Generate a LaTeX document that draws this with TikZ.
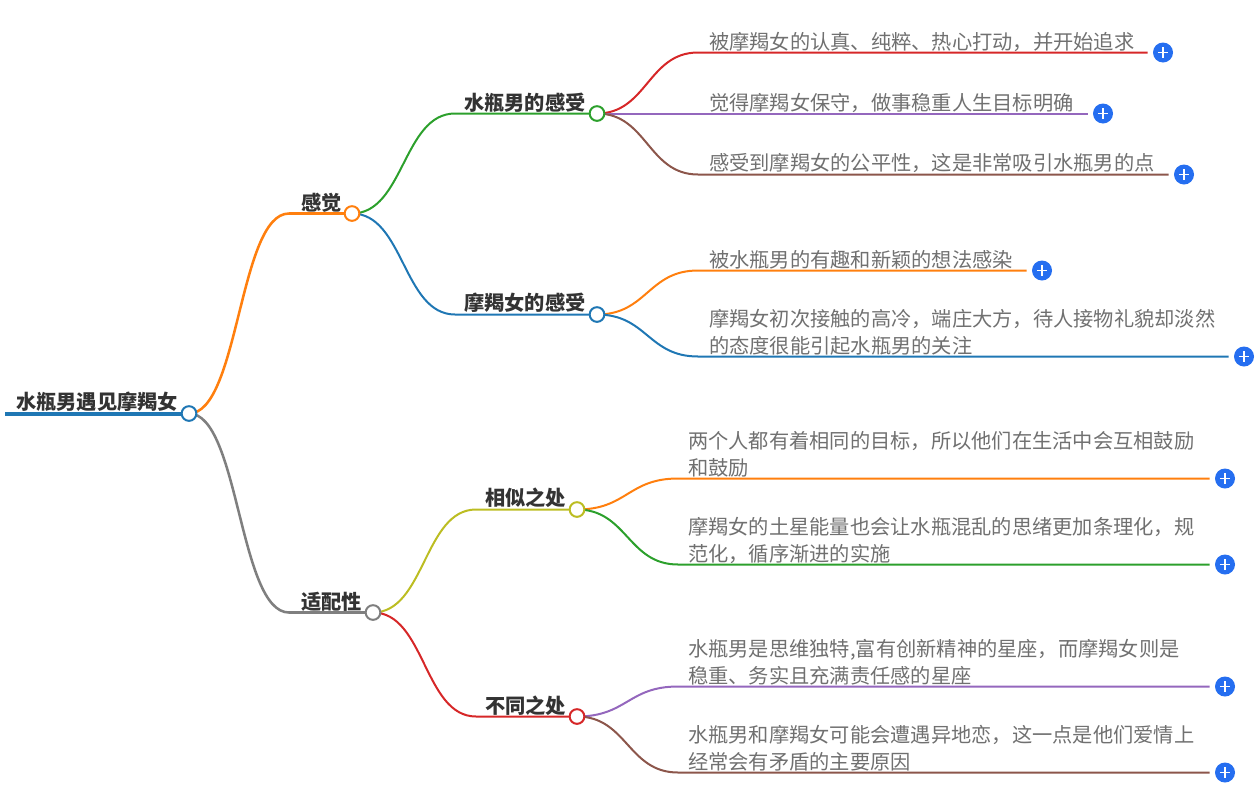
\documentclass[tikz,border=0pt]{standalone}
\usepackage{fontspec}
\usepackage{xcolor}
\usetikzlibrary{backgrounds}
\setmainfont{Noto Sans CJK SC}
\definecolor{mBlue}{RGB}{31,119,180}
\definecolor{mOrange}{RGB}{255,127,14}
\definecolor{mGreen}{RGB}{44,160,44}
\definecolor{mRed}{RGB}{214,39,40}
\definecolor{mPurple}{RGB}{148,103,189}
\definecolor{mBrown}{RGB}{140,86,75}
\definecolor{mGray}{RGB}{127,127,127}
\definecolor{mOlive}{RGB}{188,189,34}
\definecolor{mPlus}{RGB}{37,110,240}
\definecolor{mText}{RGB}{51,51,51}
\definecolor{mLeaf}{RGB}{112,112,112}
\begin{document}
\begin{tikzpicture}[
  x=0.75pt, y=-0.75pt,
  dot/.style={draw=#1, circle, fill=white, line width=1.5pt, minimum size=11pt, inner sep=0pt},
  plus/.style={circle, fill=mPlus, minimum size=15pt, inner sep=0pt,
    path picture={\draw[white, line width=1.1pt]
      ([xshift=-3.8pt]path picture bounding box.center) -- ([xshift=3.8pt]path picture bounding box.center)
      ([yshift=-3.8pt]path picture bounding box.center) -- ([yshift=3.8pt]path picture bounding box.center);}},
  title/.style={anchor=west, inner sep=0pt, text=mText, font=\fontsize{15.18}{18}\selectfont\bfseries},
  leaf/.style={anchor=west, inner sep=0pt, align=left, text=mLeaf, font=\fontsize{15.18}{20.25}\selectfont},
  branch/.style={draw=#1, line width=1.9pt},
  twig/.style={draw=#1, line width=1.5pt},
  gap/.style={xshift=-3.75pt}
]
  \useasboundingbox (0,-0.5) rectangle (1257,799.5);
  % main labels and their dots
  \node[dot=mBlue] (root) at (189,413) {};
  \node[dot=mOrange] (feel) at (352,213) {};
  \node[dot=mGray] (match) at (373,612) {};
  \node[dot=mGreen] (man) at (597,113) {};
  \node[dot=mBlue] (woman) at (597,314) {};
  \node[dot=mOlive] (same) at (577,509) {};
  \node[dot=mRed] (diff) at (577,716) {};
  \node[title] (rootText) at (16,401) {水瓶男遇见摩羯女};
  \node[title] (feelText) at (301,202) {感觉};
  \node[title] (matchText) at (301,601) {适配性};
  \node[title] (manText) at (464,102) {水瓶男的感受};
  \node[title] (womanText) at (464,302) {摩羯女的感受};
  \node[title] (sameText) at (485,497) {相似之处};
  \node[title] (diffText) at (485,705) {不同之处};
  % leaves
  \node[leaf] (manA) at (709,41) {被摩羯女的认真、纯粹、热心打动，并开始追求};
  \node[leaf] (manB) at (709,102) {觉得摩羯女保守，做事稳重人生目标明确};
  \node[leaf] (manC) at (709,162) {感受到摩羯女的公平性，这是非常吸引水瓶男的点};
  \node[leaf] (womanA) at (709,259) {被水瓶男的有趣和新颖的想法感染};
  \node[leaf] (womanB) at (709,331.5) {摩羯女初次接触的高冷，端庄大方，待人接物礼貌却淡然\\的态度很能引起水瓶男的关注};
  \node[leaf] (sameA) at (688,454) {两个人都有着相同的目标，所以他们在生活中会互相鼓励\\和鼓励};
  \node[leaf] (sameB) at (688,540) {摩羯女的土星能量也会让水瓶混乱的思绪更加条理化，规\\范化，循序渐进的实施};
  \node[leaf] (diffA) at (688,662) {水瓶男是思维独特,富有创新精神的星座，而摩羯女则是\\稳重、务实且充满责任感的星座};
  \node[leaf] (diffB) at (688,748) {水瓶男和摩羯女可能会遭遇异地恋，这一点是他们爱情上\\经常会有矛盾的主要原因};
  % plus buttons
  \node[plus] (manAPlus) at (1163,52) {};
  \node[plus] (manBPlus) at (1103,113) {};
  \node[plus] (manCPlus) at (1184,174) {};
  \node[plus] (womanAPlus) at (1042,270) {};
  \node[plus] (womanBPlus) at (1244,356) {};
  \node[plus] (sameAPlus) at (1225,478) {};
  \node[plus] (sameBPlus) at (1225,564) {};
  \node[plus] (diffAPlus) at (1225,686) {};
  \node[plus] (diffBPlus) at (1225,772) {};
  % bends
  \coordinate (rootStart) at (5,413);
  \coordinate (feelBend) at (289,213);
  \coordinate (matchBend) at (289,612);
  \coordinate (manBend) at (455,113);
  \coordinate (womanBend) at (455,314);
  \coordinate (sameBend) at (476,509);
  \coordinate (diffBend) at (476,716);
  \coordinate (manABend) at (698,52);
  \coordinate (manBBend) at (698,113);
  \coordinate (manCBend) at (698,174);
  \coordinate (womanABend) at (698,270);
  \coordinate (womanBBend) at (698,356);
  \coordinate (sameABend) at (678,478);
  \coordinate (sameBBend) at (678,564);
  \coordinate (diffABend) at (678,686);
  \coordinate (diffBBend) at (678,772);
  % connectors
  \begin{pgfonlayer}{background}
  \draw[mBlue, line width=3pt] (rootStart) -- (root.center);
  \draw[branch=mOrange] (root.center) .. controls +(50,0) and +(-50,0) .. (feelBend) -- (feel.center);
  \draw[branch=mGray] (root.center) .. controls +(50,0) and +(-50,0) .. (matchBend) -- (match.center);
  \draw[twig=mGreen] (feel.center) .. controls +(52,0) and +(-52,0) .. (manBend) -- (man.center);
  \draw[twig=mBlue] (feel.center) .. controls +(52,0) and +(-52,0) .. (womanBend) -- (woman.center);
  \draw[twig=mOlive] (match.center) .. controls +(52,0) and +(-52,0) .. (sameBend) -- (same.center);
  \draw[twig=mRed] (match.center) .. controls +(52,0) and +(-52,0) .. (diffBend) -- (diff.center);
  \draw[twig=mRed] (man.center) .. controls +(50,0) and +(-50,0) .. (manABend) -- ([gap]manAPlus.west);
  \draw[twig=mPurple] (man.center) -- (manBBend) -- ([gap]manBPlus.west);
  \draw[twig=mBrown] (man.center) .. controls +(50,0) and +(-50,0) .. (manCBend) -- ([gap]manCPlus.west);
  \draw[twig=mOrange] (woman.center) .. controls +(50,0) and +(-50,0) .. (womanABend) -- ([gap]womanAPlus.west);
  \draw[twig=mBlue] (woman.center) .. controls +(50,0) and +(-50,0) .. (womanBBend) -- ([gap]womanBPlus.west);
  \draw[twig=mOrange] (same.center) .. controls +(50,0) and +(-50,0) .. (sameABend) -- ([gap]sameAPlus.west);
  \draw[twig=mGreen] (same.center) .. controls +(50,0) and +(-50,0) .. (sameBBend) -- ([gap]sameBPlus.west);
  \draw[twig=mPurple] (diff.center) .. controls +(50,0) and +(-50,0) .. (diffABend) -- ([gap]diffAPlus.west);
  \draw[twig=mBrown] (diff.center) .. controls +(50,0) and +(-50,0) .. (diffBBend) -- ([gap]diffBPlus.west);
  \end{pgfonlayer}
\end{tikzpicture}
\end{document}
